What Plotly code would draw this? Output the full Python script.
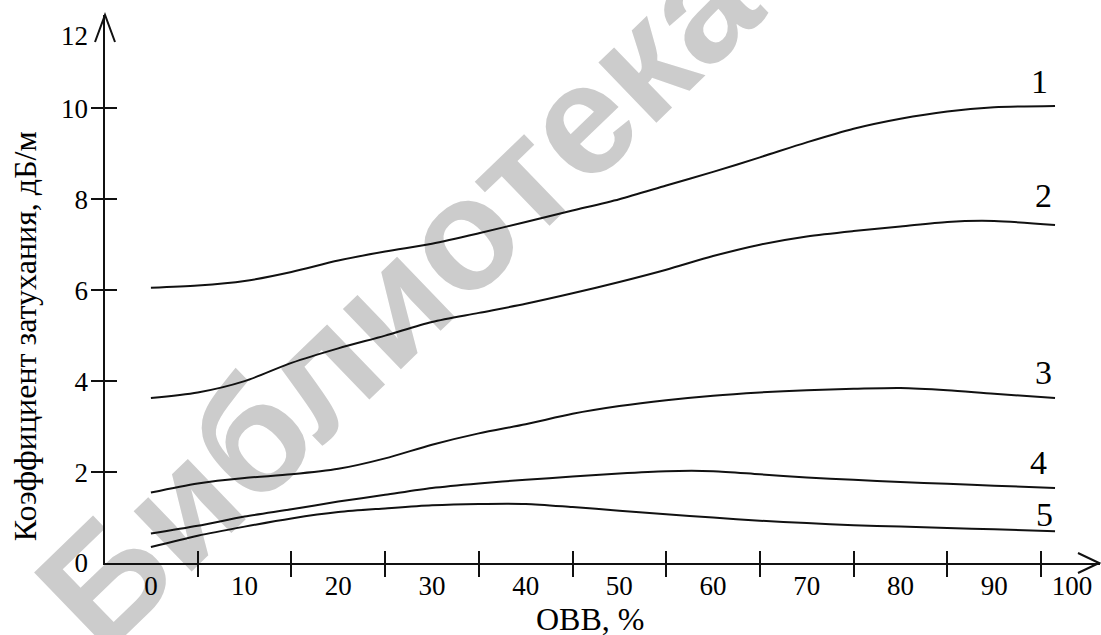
import plotly.graph_objects as go

# ---- data ----
obb = [0, 5, 10, 15, 20, 25, 30, 35, 40, 45, 50, 55, 60, 65, 70, 75, 80, 85, 90, 96.5]
curve1 = [6.05, 6.10, 6.20, 6.40, 6.65, 6.85, 7.02, 7.25, 7.50, 7.75, 8.00, 8.30, 8.60, 8.92, 9.25, 9.55, 9.77, 9.93, 10.02, 10.05]
curve2 = [3.63, 3.75, 4.00, 4.40, 4.72, 5.00, 5.30, 5.50, 5.70, 5.93, 6.18, 6.45, 6.75, 7.00, 7.18, 7.30, 7.40, 7.50, 7.52, 7.43]
curve3 = [1.55, 1.75, 1.87, 1.95, 2.07, 2.30, 2.60, 2.85, 3.05, 3.28, 3.45, 3.58, 3.68, 3.75, 3.80, 3.83, 3.85, 3.80, 3.72, 3.63]
curve4 = [0.65, 0.82, 1.02, 1.18, 1.35, 1.50, 1.65, 1.75, 1.83, 1.90, 1.97, 2.02, 2.02, 1.95, 1.88, 1.83, 1.78, 1.74, 1.70, 1.65]
curve5 = [0.35, 0.60, 0.80, 0.98, 1.12, 1.20, 1.27, 1.30, 1.30, 1.23, 1.15, 1.07, 1.00, 0.93, 0.88, 0.83, 0.80, 0.77, 0.74, 0.70]
curve_names = ["1", "2", "3", "4", "5"]

x_label_vals = [0, 10, 20, 30, 40, 50, 60, 70, 80, 90, 98.3]
x_label_text = ["0", "10", "20", "30", "40", "50", "60", "70", "80", "90", "100"]
x_tick_vals = [5, 15, 25, 35, 45, 55, 65, 75, 85, 95]
y_label_vals = [0, 2, 4, 6, 8, 10, 11.6]
y_label_text = ["0", "2", "4", "6", "8", "10", "12"]
y_tick_vals = [2, 4, 6, 8, 10]

x_title = "ОВВ, %"
y_title = "Коэффициент затухания, дБ/м"
watermark = "Библиотека"

# ---- figure ----
SERIF = "Liberation Serif, Times New Roman, serif"
XR = [-4.9, 101.3]
YR = [0, 12.05]
INK = "#111111"

fig = go.Figure()
curves = [curve1, curve2, curve3, curve4, curve5]
for name, ys in zip(curve_names, curves):
    fig.add_trace(go.Scatter(
        x=obb, y=ys, mode="lines", name=name,
        line=dict(color=INK, width=2, shape="spline", smoothing=0.8),
        showlegend=False, hoverinfo="skip"))

# invisible traces holding the overlay axes (crossing tick marks)
fig.add_trace(go.Scatter(x=[None], y=[None], xaxis="x2", yaxis="y2",
                         showlegend=False, hoverinfo="skip"))
fig.add_trace(go.Scatter(x=[None], y=[None], xaxis="x3", yaxis="y3",
                         showlegend=False, hoverinfo="skip"))

label_shift = {"1": (-16, 24), "2": (-12, 30), "3": (-12, 25), "4": (-17, 25), "5": (-11, 17)}
for name, ys in zip(curve_names, curves):
    dx, dy = label_shift[name]
    fig.add_annotation(x=obb[-1], y=ys[-1], text=name, showarrow=False,
                       xshift=dx, yshift=dy, xanchor="center", yanchor="middle",
                       font=dict(family=SERIF, size=34, color="black"))

tick_font = dict(family=SERIF, size=27, color="black")
fig.update_layout(
    width=1101, height=635,
    margin=dict(l=105, r=1, t=15, b=72),
    paper_bgcolor="white", plot_bgcolor="white",
    xaxis=dict(range=XR, tickmode="array", tickvals=x_label_vals, ticktext=x_label_text,
               ticks="", showline=False, showgrid=False, zeroline=False,
               tickfont=tick_font, ticklabelstandoff=4),
    yaxis=dict(range=YR, tickmode="array", tickvals=y_label_vals, ticktext=y_label_text,
               ticks="", showline=False, showgrid=False, zeroline=False,
               tickfont=tick_font, ticklabelstandoff=16),
    xaxis2=dict(range=XR, overlaying="x", anchor="y2", side="bottom",
                tickmode="array", tickvals=x_tick_vals, ticks="outside", ticklen=12,
                tickwidth=2, tickcolor=INK, showticklabels=False,
                showline=True, linewidth=2, linecolor=INK,
                showgrid=False, zeroline=False),
    yaxis2=dict(range=YR, overlaying="y", anchor="x2", side="left",
                tickmode="array", tickvals=y_tick_vals, ticks="outside", ticklen=12,
                tickwidth=2, tickcolor=INK, showticklabels=False,
                showline=True, linewidth=2, linecolor=INK,
                showgrid=False, zeroline=False),
    xaxis3=dict(range=XR, overlaying="x", anchor="y", side="bottom",
                tickmode="array", tickvals=x_tick_vals, ticks="inside", ticklen=12,
                tickwidth=2, tickcolor=INK, showticklabels=False,
                showline=False, showgrid=False, zeroline=False),
    yaxis3=dict(range=YR, overlaying="y", anchor="x", side="left",
                tickmode="array", tickvals=y_tick_vals, ticks="inside", ticklen=12,
                tickwidth=2, tickcolor=INK, showticklabels=False,
                showline=False, showgrid=False, zeroline=False),
)

# axis arrowheads (open chevrons)
fig.add_shape(type="path", xref="paper", yref="paper", xsizemode="pixel", ysizemode="pixel",
              xanchor=0, yanchor=1, path="M -10,-27 L 0,0 L 10,-27",
              line=dict(color=INK, width=2))
fig.add_shape(type="path", xref="paper", yref="paper", xsizemode="pixel", ysizemode="pixel",
              xanchor=1, yanchor=0, path="M -22,10 L -1,0 L -22,-10",
              line=dict(color=INK, width=2))

# watermark behind everything
fig.add_shape(type="rect", xref="paper", yref="paper", x0=0.25, x1=0.316, y0=0.475, y1=0.537,
              layer="below", line=dict(width=0), fillcolor="rgba(0,0,0,0)",
              label=dict(text="<b>" + watermark + "</b>", textangle=-44,
                         textposition="middle center",
                         font=dict(family="Liberation Sans, Arial, sans-serif", size=158,
                                   color="#cccccc")))

# axis titles
fig.add_annotation(xref="paper", yref="paper", x=-0.0804, y=0.414, text=y_title,
                   textangle=-90, showarrow=False, xanchor="center", yanchor="middle",
                   font=dict(family=SERIF, size=32, color="black"))
fig.add_annotation(xref="paper", yref="paper", x=0.487, y=-0.103, text=x_title,
                   showarrow=False, xanchor="center", yanchor="middle",
                   font=dict(family=SERIF, size=32, color="black"))

# remove the browser's default page margin so the figure fills the window exactly
fig.write_html("out.html", config={"displayModeBar": False},
               post_script="document.body.style.margin='0px';")
